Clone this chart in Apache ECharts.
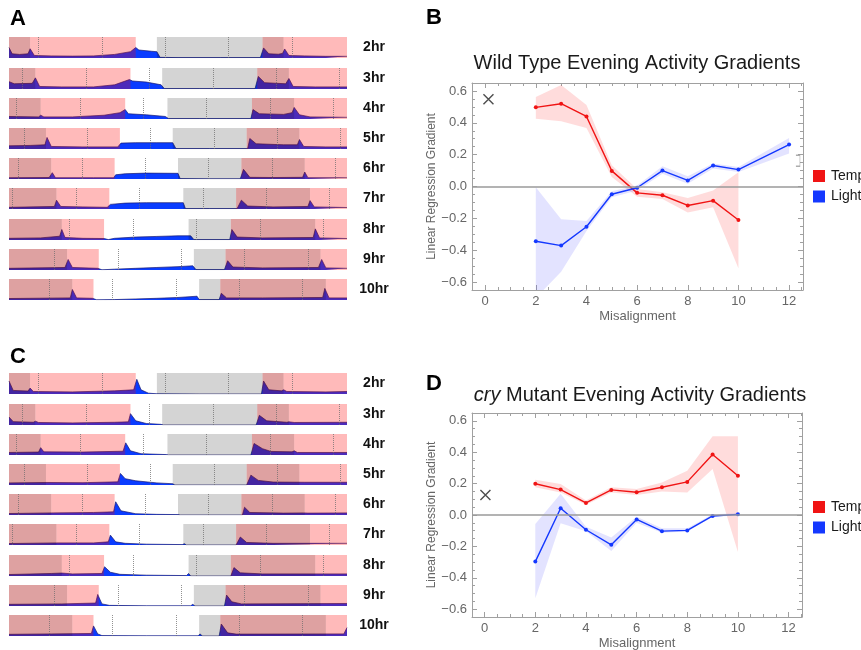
<!DOCTYPE html>
<html>
<head>
<meta charset="utf-8">
<script src="https://cdn.jsdelivr.net/npm/echarts@6/dist/echarts.min.js"></script>
<style>
html, body { margin: 0; background: #fff; }
#chart { width: 861px; height: 650px; }
</style>
</head>
<body>
<div id="chart"></div>
<script>
// ---- experiment design (hours on a 32 h strip) ----
const rowLabels = ['2hr', '3hr', '4hr', '5hr', '6hr', '7hr', '8hr', '9hr', '10hr'];
const lightOn = [2, 2.5, 3, 3.5, 4, 4.5, 5, 5.5, 6];
const warmOn = [0, -0.5, -1, -1.5, -2, -2.5, -3, -3.5, -4];
const dotOffsets = [2.8, 1.3, 0.7, 1.4, 0.9, 0.35, 5.75, 4.3, 3.8];

// ---- activity traces, [hour, fraction of strip height] ----
const wtActivity = [
  [[0,0.5],[0.3,0.2],[1,0.17],[1.8,0.2],[2,0.44],[2.4,0.12],[4,0.1],[6,0.09],[8,0.1],[10,0.17],[11.5,0.3],[12,0.5],[12.3,0.38],[13.5,0.32],[14,0.3],[14.3,0.03],[16,0.02],[20,0.02],[23.8,0.02],[24.1,0.48],[24.6,0.2],[25.5,0.18],[25.9,0.22],[26.1,0.43],[26.5,0.12],[28,0.1],[30,0.08],[32,0.08]],
  [[0,0.35],[0.5,0.25],[2.2,0.27],[2.5,0.53],[2.9,0.12],[5,0.1],[8,0.1],[10,0.2],[11.4,0.45],[11.7,0.38],[13,0.33],[14.4,0.2],[14.7,0.02],[18,0.02],[23.3,0.02],[23.6,0.6],[24.2,0.3],[26.2,0.25],[26.5,0.5],[26.9,0.12],[29,0.1],[32,0.1]],
  [[0,0.12],[2.8,0.1],[3,0.18],[3.3,0.1],[6,0.1],[9,0.18],[10.5,0.3],[11,0.45],[11.3,0.25],[13,0.2],[14.8,0.12],[15.1,0.02],[18,0.02],[22.9,0.02],[23.1,0.45],[23.7,0.25],[26,0.22],[26.8,0.3],[27,0.55],[27.5,0.2],[28.5,0.1],[32,0.08]],
  [[0,0.15],[2,0.17],[3.4,0.2],[3.6,0.55],[4,0.12],[7,0.1],[10.3,0.1],[10.6,0.28],[12,0.3],[14,0.3],[15.5,0.3],[15.8,0.02],[19,0.02],[22.6,0.02],[22.8,0.5],[23.4,0.25],[26,0.2],[27.3,0.2],[27.5,0.45],[27.9,0.12],[30,0.1],[32,0.1]],
  [[0,0.06],[3.8,0.07],[4.1,0.3],[4.4,0.06],[8,0.06],[9.9,0.06],[10.1,0.2],[11,0.25],[13,0.28],[16,0.27],[16.2,0.02],[19,0.01],[21.9,0.01],[22.2,0.46],[22.8,0.08],[25,0.07],[27.8,0.08],[28,0.33],[28.3,0.06],[32,0.06]],
  [[0,0.08],[4.3,0.12],[4.5,0.42],[4.9,0.12],[7,0.1],[9.3,0.08],[9.6,0.22],[11,0.28],[13,0.3],[16.5,0.3],[16.7,0.02],[19,0.02],[21.6,0.02],[22,0.42],[22.6,0.14],[25,0.1],[28.3,0.12],[28.5,0.4],[28.9,0.1],[32,0.07]],
  [[0,0.08],[3,0.1],[4.8,0.18],[5,0.5],[5.3,0.12],[7,0.08],[9,0.07],[9.4,0.02],[10,0.08],[12,0.14],[14,0.17],[16,0.2],[17.2,0.2],[17.5,0.02],[20.9,0.02],[21.1,0.5],[21.6,0.14],[24,0.1],[28.8,0.12],[29,0.53],[29.4,0.1],[32,0.07]],
  [[0,0.08],[5.3,0.12],[5.6,0.5],[6,0.12],[8.4,0.08],[8.8,0.01],[10,0.04],[12,0.08],[14,0.12],[16,0.16],[17.4,0.2],[17.7,0.02],[20.4,0.02],[20.7,0.44],[21.2,0.14],[24,0.1],[29.3,0.12],[29.6,0.5],[30,0.1],[32,0.08]],
  [[0,0.07],[5.8,0.1],[6,0.5],[6.4,0.1],[7.9,0.08],[8.3,0.01],[10,0.02],[12,0.05],[14,0.08],[16,0.12],[17.8,0.18],[18,0.02],[19.9,0.02],[20.1,0.32],[20.6,0.1],[24,0.1],[29.7,0.12],[29.9,0.55],[30.3,0.1],[32,0.1]]
];
const cryActivity = [
  [[0,0.62],[0.4,0.17],[1.8,0.14],[2,0.28],[2.3,0.12],[6,0.1],[10,0.15],[11.8,0.2],[12.1,0.7],[12.5,0.2],[13.2,0.04],[14,0.01],[18,0],[23.9,0],[24.1,0.62],[24.6,0.2],[25.8,0.15],[26,0.2],[26.3,0.12],[30,0.1],[32,0.12]],
  [[0,0.38],[0.4,0.16],[2.3,0.13],[2.5,0.18],[2.8,0.12],[6,0.1],[10,0.13],[11.3,0.15],[11.5,0.54],[12,0.2],[13,0.07],[14.4,0.03],[14.6,0],[23.4,0],[23.7,0.46],[24.4,0.2],[26.3,0.13],[26.5,0.15],[27,0.12],[32,0.13]],
  [[0,0.12],[2.8,0.14],[3,0.35],[3.3,0.15],[7,0.14],[10.8,0.18],[11.05,0.58],[11.5,0.2],[12.5,0.06],[14.9,0.02],[15.1,0],[22.9,0],[23.2,0.55],[24,0.3],[24.8,0.17],[26.8,0.15],[27,0.2],[27.3,0.12],[32,0.12]],
  [[0,0.1],[3.5,0.12],[7,0.11],[10.3,0.15],[10.55,0.55],[11,0.3],[12,0.2],[14,0.1],[15.5,0.06],[15.7,0],[22.5,0],[22.9,0.47],[23.6,0.22],[25,0.14],[28,0.13],[32,0.13]],
  [[0,0.07],[4,0.1],[8,0.12],[9.9,0.15],[10.1,0.63],[10.6,0.2],[12,0.06],[14,0.03],[16,0.02],[16.2,0],[22.1,0],[22.3,0.37],[22.8,0.12],[26,0.09],[27.9,0.1],[28,0.15],[28.3,0.09],[32,0.1]],
  [[0,0.07],[4.5,0.1],[8,0.1],[9.4,0.15],[9.6,0.47],[10.1,0.15],[11,0.08],[13,0.04],[16.4,0.02],[16.6,0.06],[16.8,0],[21.5,0],[21.9,0.38],[22.5,0.12],[25,0.08],[32,0.08]],
  [[0,0.07],[4,0.12],[5,0.14],[6,0.1],[8.8,0.12],[9.05,0.44],[9.6,0.18],[10.5,0.08],[13,0.04],[16.8,0.02],[17,0.12],[17.2,0],[21,0],[21.3,0.4],[21.9,0.15],[24,0.1],[32,0.1]],
  [[0,0.08],[5,0.1],[8.2,0.14],[8.4,0.55],[8.8,0.1],[9.5,0.03],[13,0.01],[17.2,0.01],[17.4,0.08],[17.6,0],[20.4,0],[20.6,0.52],[21.1,0.2],[22,0.1],[32,0.12]],
  [[0,0.08],[4,0.1],[7.8,0.12],[8,0.48],[8.4,0.1],[8.8,0.02],[13,0.01],[17.9,0.01],[18.1,0.1],[18.3,0],[19.9,0],[20.1,0.57],[20.7,0.15],[21.5,0.09],[31.7,0.1],[32,0.4]]
];

// ---- panel B: wild type gradients ----
const wtX = [2, 3, 4, 5, 6, 7, 8, 9, 10];
const wtTemp = [0.497, 0.52, 0.44, 0.098, -0.04, -0.055, -0.119, -0.089, -0.21];
const wtTempLo = [0.425, 0.41, 0.368, 0.06, -0.064, -0.078, -0.164, -0.13, -0.514];
const wtTempHi = [0.562, 0.638, 0.512, 0.134, -0.015, -0.036, -0.072, -0.025, 0.09];
const wtLightX = [2, 3, 4, 5, 6, 7, 8, 9, 10, 12];
const wtLight = [-0.344, -0.371, -0.253, -0.049, -0.008, 0.1, 0.038, 0.132, 0.106, 0.263];
const wtLightLo = [-0.7, -0.535, -0.28, -0.068, -0.025, 0.08, 0.017, 0.113, 0.091, 0.208];
const wtLightHi = [-0.004, -0.206, -0.217, -0.03, 0.006, 0.127, 0.064, 0.145, 0.123, 0.304];

// ---- panel D: cry mutant gradients ----
const cryX = [2, 3, 4, 5, 6, 7, 8, 9, 10];
const cryTemp = [0.199, 0.162, 0.077, 0.16, 0.145, 0.177, 0.211, 0.385, 0.25];
const cryTempLo = [0.177, 0.143, 0.066, 0.143, 0.128, 0.149, 0.143, 0.293, -0.235];
const cryTempHi = [0.224, 0.197, 0.092, 0.177, 0.165, 0.207, 0.282, 0.502, 0.502];
const cryLight = [-0.297, 0.043, -0.094, -0.19, -0.028, -0.103, -0.098, -0.006, 0.004];
const cryLightLo = [-0.53, -0.053, -0.103, -0.229, -0.049, -0.113, -0.105, -0.013, -0.002];
const cryLightHi = [-0.058, 0.135, -0.075, -0.143, -0.011, -0.085, -0.085, 0.004, 0.011];

const xMajor = [0, 2, 4, 6, 8, 10, 12];
const yMajor = [-0.6, -0.4, -0.2, 0, 0.2, 0.4, 0.6];

// ---- layout ----
const font = 'Liberation Sans, Arial, sans-serif';
const frameColor = '#a0a0a0';
const labelColor = '#666';
const stripLeft = 9, stripWidth = 338, stripHeight = 21;
const wtTops = [37, 68, 98, 128, 158, 188, 219, 249, 279];
const cryTops = [373, 404, 434, 464, 494, 524, 555, 585, 615];
const shade = { 1: 'rgba(255,0,0,0.27)', 2: 'rgba(166,0,0,0.37)', 3: 'rgba(0,0,0,0.17)' };

const grids = [], xAxes = [], yAxes = [], series = [], graphics = [];

// split a strip into light/dark x warm/cold blocks
function phaseBlocks(row) {
  const cuts = [0, 32];
  [lightOn[row], lightOn[row] + 12, warmOn[row], warmOn[row] + 12].forEach(function (b) {
    for (let k = -1; k <= 2; k++) {
      const c = b + 24 * k;
      if (c > 0 && c < 32) cuts.push(c);
    }
  });
  cuts.sort(function (a, b) { return a - b; });
  const out = [];
  for (let i = 0; i < cuts.length - 1; i++) {
    if (cuts[i + 1] - cuts[i] <= 0) continue;
    const m = (cuts[i] + cuts[i + 1]) / 2;
    const light = ((m - lightOn[row]) % 24 + 24) % 24 < 12;
    const warm = ((m - warmOn[row]) % 24 + 24) % 24 < 12;
    const kind = warm ? (light ? 1 : 2) : (light ? 0 : 3);
    if (kind) out.push([cuts[i], cuts[i + 1], kind]);
  }
  return out;
}

function addStrip(top, trace, row) {
  const i = grids.length;
  grids.push({ left: stripLeft, top: top, width: stripWidth, height: stripHeight, outerBoundsMode: 'none' });
  xAxes.push({ gridIndex: i, type: 'value', min: 0, max: 32, show: false });
  yAxes.push({ gridIndex: i, type: 'value', min: 0, max: 1, show: false });
  const dots = [];
  for (let t = dotOffsets[row]; t < 32; t += 6) dots.push({ xAxis: t });
  series.push({
    type: 'line', xAxisIndex: i, yAxisIndex: i, data: trace, symbol: 'none', z: 2, silent: true,
    lineStyle: { color: '#1b1b70', width: 0.7 },
    areaStyle: { color: '#0a3cff', opacity: 1 },
    markLine: {
      silent: true, symbol: 'none', label: { show: false },
      lineStyle: { type: 'dotted', color: 'rgba(110,110,110,0.75)', width: 1 },
      data: dots
    }
  });
  series.push({
    type: 'custom', xAxisIndex: i, yAxisIndex: i, z: 3, silent: true,
    data: phaseBlocks(row), encode: { x: [0, 1], y: 2 },
    renderItem: function (params, api) {
      const p0 = api.coord([api.value(0), 1]);
      const p1 = api.coord([api.value(1), 0]);
      return {
        type: 'rect',
        shape: { x: p0[0], y: p0[1], width: p1[0] - p0[0], height: p1[1] - p0[1] },
        style: { fill: shade[api.value(2)] }
      };
    }
  });
  graphics.push({
    type: 'text', x: 374, y: top + stripHeight / 2,
    style: { text: rowLabels[row], font: 'bold 14px ' + font, fill: '#111', textAlign: 'center', textVerticalAlign: 'middle' }
  });
}

wtActivity.forEach(function (tr, r) { addStrip(wtTops[r], tr, r); });
cryActivity.forEach(function (tr, r) { addStrip(cryTops[r], tr, r); });

function band(xs, lo, hi, color) {
  return {
    type: 'custom', z: 1, silent: true, clip: true,
    data: xs.map(function (x, k) { return [x, lo[k], hi[k]]; }),
    encode: { x: 0, y: [1, 2] },
    renderItem: function (params, api) {
      if (params.dataIndex !== 0) return null;
      const upper = xs.map(function (x, k) { return api.coord([x, hi[k]]); });
      const lower = xs.map(function (x, k) { return api.coord([x, lo[k]]); }).reverse();
      return { type: 'polygon', shape: { points: upper.concat(lower) }, style: { fill: color } };
    }
  };
}

function gradientLine(name, xs, ys, color) {
  return {
    type: 'line', name: name, z: 4,
    data: xs.map(function (x, k) { return [x, ys[k]]; }),
    symbol: 'circle', symbolSize: 4,
    itemStyle: { color: color }, lineStyle: { color: color, width: 1.4 }
  };
}

function addGradientChart(box, xMin, xMax, temp, light, crossAt) {
  const g = grids.length;
  grids.push({ left: box.left, top: box.top, width: box.width, height: box.height, outerBoundsMode: 'none' });
  const xMinor = [], yMinor = [];
  for (let k = 1; k <= 25; k++) if (k % 4) xMinor.push(k * 0.5);
  for (let k = -13; k <= 13; k++) if (k % 4) yMinor.push(k * 0.05);
  const line = { onZero: false, lineStyle: { color: frameColor, width: 1 } };
  const noLine = { show: false, onZero: false };
  const tick = function (vals, len) {
    return { inside: true, length: len, customValues: vals, lineStyle: { color: frameColor, width: 1 } };
  };
  const base = { gridIndex: g, type: 'value', min: xMin, max: xMax, splitLine: { show: false } };
  xAxes.push(Object.assign({}, base, {
    position: 'bottom', axisLine: line, axisTick: tick(xMajor, 5),
    axisLabel: { customValues: xMajor, color: labelColor, fontSize: 13, fontFamily: font, margin: 5 },
    name: 'Misalignment', nameLocation: 'middle', nameGap: 20,
    nameTextStyle: { color: labelColor, fontSize: 13, fontFamily: font }
  }));
  xAxes.push(Object.assign({}, base, { position: 'bottom', axisLine: noLine, axisTick: tick(xMinor, 3), axisLabel: { show: false } }));
  xAxes.push(Object.assign({}, base, { position: 'top', axisLine: line, axisTick: tick(xMajor, 5), axisLabel: { show: false } }));
  xAxes.push(Object.assign({}, base, { position: 'top', axisLine: noLine, axisTick: tick(xMinor, 3), axisLabel: { show: false } }));
  const ybase = { gridIndex: g, type: 'value', min: -0.65, max: 0.65, splitLine: { show: false } };
  yAxes.push(Object.assign({}, ybase, {
    position: 'left', axisLine: line, axisTick: tick(yMajor, 5),
    axisLabel: {
      customValues: yMajor, color: labelColor, fontSize: 13, fontFamily: font, margin: 5,
      formatter: function (v) { return (v < -1e-9 ? '\u2212' : '') + Math.abs(v).toFixed(1); }
    },
    name: 'Linear Regression Gradient', nameLocation: 'middle', nameGap: 29,
    nameTextStyle: { color: labelColor, fontSize: 12, fontFamily: font }
  }));
  yAxes.push(Object.assign({}, ybase, { position: 'left', axisLine: noLine, axisTick: tick(yMinor, 3), axisLabel: { show: false } }));
  yAxes.push(Object.assign({}, ybase, { position: 'right', axisLine: line, axisTick: tick(yMajor, 5), axisLabel: { show: false } }));
  yAxes.push(Object.assign({}, ybase, { position: 'right', axisLine: noLine, axisTick: tick(yMinor, 3), axisLabel: { show: false } }));

  const xi = xAxes.length - 4, yi = yAxes.length - 4;
  const s = [
    band(temp.x, temp.lo, temp.hi, 'rgba(255,40,40,0.16)'),
    band(light.x, light.lo, light.hi, 'rgba(70,70,255,0.15)'),
    gradientLine('Temp', temp.x, temp.y, '#f01414'),
    gradientLine('Light', light.x, light.y, '#1438ff'),
    {
      type: 'scatter', z: 4, silent: true,
      data: [crossAt], symbol: 'path://M0,0L10,10M10,0L0,10', symbolSize: 10,
      itemStyle: { color: 'none', borderColor: '#222', borderWidth: 1.4 }
    }
  ];
  s.forEach(function (o) { o.xAxisIndex = xi; o.yAxisIndex = yi; });
  s[2].markLine = {
    silent: true, symbol: 'none', label: { show: false },
    lineStyle: { color: '#9a9a9a', width: 1.5, type: 'solid' }, data: [{ yAxis: 0 }]
  };
  s.forEach(function (o) { series.push(o); });

  // legend swatches and names
  [['Temp', '#f01414', 0], ['Light', '#1438ff', 1]].forEach(function (e) {
    const y = box.legendTop + e[2] * 20.5;
    graphics.push({ type: 'rect', shape: { x: 813, y: y, width: 12, height: 12 }, style: { fill: e[1] } });
    graphics.push({ type: 'text', x: 831, y: y + 6, style: { text: e[0], font: '14px ' + font, fill: '#1a1a1a', textVerticalAlign: 'middle' } });
  });
  return { xi: xi, yi: yi };
}

const bAx = addGradientChart({ left: 472, top: 83, width: 331, height: 207, legendTop: 170 }, -0.52, 12.55,
  { x: wtX, y: wtTemp, lo: wtTempLo, hi: wtTempHi },
  { x: wtLightX, y: wtLight, lo: wtLightLo, hi: wtLightHi }, [0.13, 0.548]);
addGradientChart({ left: 472, top: 413, width: 330, height: 204, legendTop: 501 }, -0.5, 12.53,
  { x: cryX, y: cryTemp, lo: cryTempLo, hi: cryTempHi },
  { x: cryX, y: cryLight, lo: cryLightLo, hi: cryLightHi }, [0.03, 0.128]);

// small bracket glyph next to the last light point in B
series.push({
  type: 'scatter', xAxisIndex: bAx.xi, yAxisIndex: bAx.yi, silent: true, z: 4,
  data: [[12.35, 0.162]], symbol: 'path://M0,0L4,0L4,12L0,12', symbolSize: [4, 11],
  itemStyle: { color: 'none', borderColor: '#999', borderWidth: 1 }
});

// panel letters and titles
[['A', 18, 19], ['B', 434, 18], ['C', 18, 357], ['D', 434, 384]].forEach(function (p) {
  graphics.push({ type: 'text', x: p[1], y: p[2], style: { text: p[0], font: 'bold 22px ' + font, fill: '#000', textAlign: 'center', textVerticalAlign: 'middle' } });
});
graphics.push({ type: 'text', x: 637, y: 63, style: { text: 'Wild Type Evening Activity Gradients', font: '20px ' + font, fill: '#1a1a1a', textAlign: 'center', textVerticalAlign: 'middle' } });
graphics.push({
  type: 'text', x: 640, y: 395,
  style: {
    text: '{i|cry} Mutant Evening Activity Gradients', font: '20px ' + font, fill: '#1a1a1a',
    textAlign: 'center', textVerticalAlign: 'middle',
    rich: { i: { fontStyle: 'italic', fontSize: 20, fontFamily: font, fill: '#1a1a1a' } }
  }
});

const chart = echarts.init(document.getElementById('chart'));
chart.setOption({
  animation: false,
  backgroundColor: '#fff',
  textStyle: { fontFamily: font },
  grid: grids,
  xAxis: xAxes,
  yAxis: yAxes,
  graphic: graphics,
  series: series
});
</script>
</body>
</html>
